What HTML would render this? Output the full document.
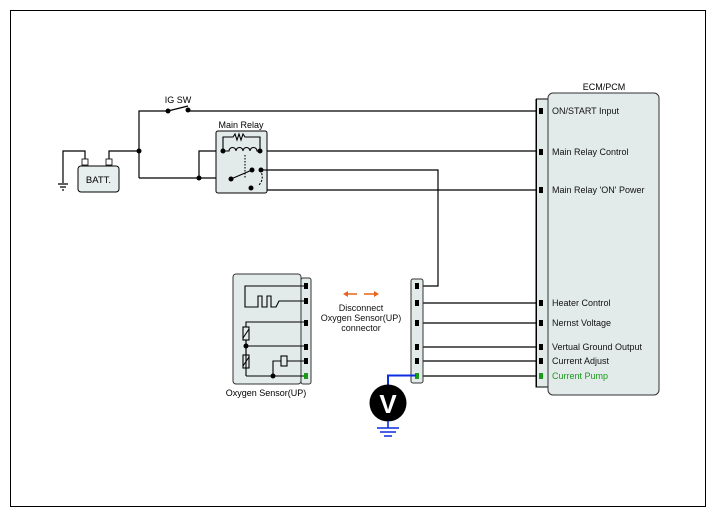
<!DOCTYPE html>
<html><head><meta charset="utf-8"><style>
body{margin:0;background:#fff}
svg{display:block;font-family:"Liberation Sans",Arial,sans-serif}
</style></head><body>
<svg width="717" height="518" viewBox="0 0 717 518" xmlns="http://www.w3.org/2000/svg">
<rect x="10.5" y="10.5" width="695" height="496" fill="#fff" stroke="#000" stroke-width="1"/>
<g fill="none" stroke="#000" stroke-width="1.2">
<!-- battery -->
<path d="M85 160 V151 H63 V183"/>
<path d="M58 184 H68 M60 187 H66 M62 190 H64"/>
<path d="M109 160 V151 H139"/>
<!-- IG SW -->
<path d="M139 178 V111 H168"/>
<path d="M168 111 L188 106"/>
<path d="M188 111 H536"/>
<!-- relay wires -->
<path d="M139 178 H231"/>
<path d="M199 178 V151 H223"/>
<path d="M260 151 H536"/>
<path d="M252 170 H438 V286 H423"/>
<path d="M267 170 V190 H536"/>
<!-- ECM pins wires -->
<path d="M423 303 H536 M423 323 H536 M423 347 H536 M423 361 H536 M423 376 H536"/>
</g>
<rect x="78" y="166" width="41" height="26" rx="3" fill="#e6eeee" stroke="#000"/>
<text x="98.5" y="183" font-size="9.5" text-anchor="middle">BATT.</text>
<rect x="82" y="159" width="6" height="6" fill="#fff" stroke="#000" stroke-width="0.8"/>
<rect x="106" y="159" width="6" height="6" fill="#fff" stroke="#000" stroke-width="0.8"/>
<circle cx="139" cy="151" r="2.5"/><circle cx="168" cy="111" r="2.5"/><circle cx="188" cy="110" r="2.5"/>
<circle cx="199" cy="178" r="2.5"/>
<text x="178" y="103" font-size="9" text-anchor="middle">IG SW</text>
<!-- relay -->
<text x="241" y="128" font-size="9" text-anchor="middle">Main Relay</text>
<rect x="216" y="131" width="51" height="62" rx="2" fill="#e3eaea" stroke="#000"/>
<g fill="none" stroke="#000" stroke-width="1.1">
<path d="M223 151 V137 H233 l2 -3 l2 6 l2 -6 l2 6 l2 -6 l2 3 H260 V151"/>
<path d="M223 151 H229 a3.5 3.5 0 0 1 7 0 a3.5 3.5 0 0 1 7 0 a3.5 3.5 0 0 1 7 0 a3.5 3.5 0 0 1 7 0 H260"/>
<path d="M245 155 V178" stroke-dasharray="1.5 1.5"/>
<path d="M231 179 L252 170"/>
<path d="M260 170 q5 8 -1 15" stroke-dasharray="2 1.5"/>
<path d="M261 170 H267"/>
</g>
<circle cx="223" cy="151" r="2.5"/><circle cx="260" cy="151" r="2.5"/>
<circle cx="231" cy="179" r="2.5"/><circle cx="252" cy="170" r="2.5"/><circle cx="261" cy="170" r="2.5"/><circle cx="251" cy="188" r="2.5"/>
<!-- ECM -->
<text x="604" y="90" font-size="9" text-anchor="middle">ECM/PCM</text>
<path d="M536 99 H550 M536 99 V387 H550" fill="none" stroke="#000"/>
<rect x="536.5" y="99.5" width="13" height="287" fill="#e3eaea" stroke="none"/>
<path d="M536.5 99 V387" stroke="#000"/>
<rect x="548" y="93" width="111" height="302" rx="5" fill="#e3eaea" stroke="#333"/>
<g fill="#000"><rect x="539" y="108" width="4" height="6"/><rect x="539" y="149" width="4" height="6"/><rect x="539" y="187" width="4" height="6"/><rect x="539" y="300" width="4" height="6"/><rect x="539" y="320" width="4" height="6"/><rect x="539" y="344" width="4" height="6"/><rect x="539" y="358" width="4" height="6"/></g>
<rect x="539" y="373" width="4" height="6" fill="#1a9a1a"/>
<g font-size="9" fill="#111">
<text x="552" y="114">ON/START Input</text>
<text x="552" y="155">Main Relay Control</text>
<text x="552" y="193">Main Relay 'ON' Power</text>
<text x="552" y="306">Heater Control</text>
<text x="552" y="326">Nernst Voltage</text>
<text x="552" y="350">Vertual Ground Output</text>
<text x="552" y="364">Current Adjust</text>
<text x="552" y="379" fill="#1a9a1a">Current Pump</text>
</g>
<!-- middle connector -->
<rect x="411" y="279" width="12" height="104" rx="2" fill="#e3eaea" stroke="#333"/>
<g fill="#000"><rect x="415" y="283" width="4" height="6"/><rect x="415" y="300" width="4" height="6"/><rect x="415" y="320" width="4" height="6"/><rect x="415" y="344" width="4" height="6"/><rect x="415" y="358" width="4" height="6"/></g>
<rect x="415" y="373" width="4" height="6" fill="#1a9a1a"/>
<!-- sensor -->
<rect x="301" y="278" width="10" height="106" rx="2" fill="#e3eaea" stroke="#333"/>
<rect x="233" y="274" width="68" height="110" rx="3" fill="#e3eaea" stroke="#333"/>
<g fill="#000"><rect x="304" y="283" width="4" height="6"/><rect x="304" y="298" width="4" height="6"/><rect x="304" y="320" width="4" height="6"/><rect x="304" y="344" width="4" height="6"/><rect x="304" y="358" width="4" height="6"/></g>
<rect x="304" y="373" width="4" height="6" fill="#1a9a1a"/>
<g fill="none" stroke="#000" stroke-width="1.1">
<path d="M304 286 H245 V307 H258 V296 H262 V307 H267 V296 H271 V307 H276 L279 301 H304"/>
<path d="M304 322 H246 V327 M246 340 V368 M246 376 H304 M246 368 V376"/>
<path d="M246 346 H304"/>
<rect x="243" y="327" width="6" height="13"/>
<rect x="243" y="355" width="6" height="13"/>
<path d="M243 338 L249 329 M243 366 L249 357"/>
<path d="M246 340 V355"/>
<path d="M273 376 V361 H281 M287 361 H304"/>
<rect x="281" y="356" width="6" height="10"/>
</g>
<circle cx="246" cy="346" r="2.5"/><circle cx="273" cy="376" r="2.5"/>
<text x="266" y="396" font-size="9" text-anchor="middle">Oxygen Sensor(UP)</text>
<!-- disconnect -->
<g fill="#e8641c" stroke="#e8641c" stroke-width="1.5">
<path d="M346 294 H357 M364 294 H376"/>
<path d="M343 294 l5 -3 v6z M379 294 l-5 -3 v6z" stroke="none"/>
</g>
<g font-size="9" text-anchor="middle" fill="#111">
<text x="361" y="311">Disconnect</text>
<text x="361" y="321">Oxygen Sensor(UP)</text>
<text x="361" y="331">connector</text>
</g>
<!-- voltmeter -->
<path d="M416 375.5 H388 V390" fill="none" stroke="#0a2ee0" stroke-width="2"/>
<circle cx="388" cy="403" r="18.5" fill="#000"/>
<text x="388" y="413" font-size="26" font-weight="bold" fill="#fff" text-anchor="middle">V</text>
<path d="M388 421 V428 M377 428 H399 M380 432 H396 M384 436 H392" stroke="#0a2ee0" stroke-width="1.6" fill="none"/>
</svg>
</body></html>
